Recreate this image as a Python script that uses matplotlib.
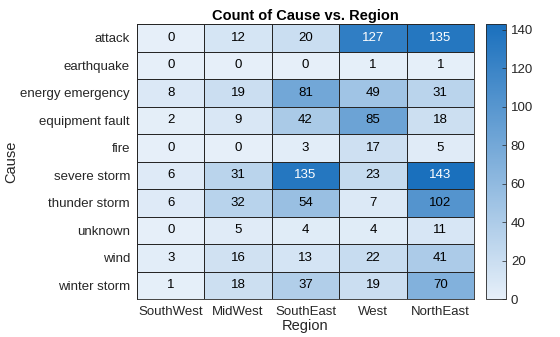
import matplotlib.pyplot as plt
import numpy as np
from matplotlib.colors import LinearSegmentedColormap

plt.rcParams["font.family"] = ["Liberation Sans", "DejaVu Sans"]

causes = ["attack", "earthquake", "energy emergency", "equipment fault", "fire",
          "severe storm", "thunder storm", "unknown", "wind", "winter storm"]
regions = ["SouthWest", "MidWest", "SouthEast", "West", "NorthEast"]

southwest = [0, 0, 8, 2, 0, 6, 6, 0, 3, 1]
midwest = [12, 0, 19, 9, 0, 31, 32, 5, 16, 18]
southeast = [20, 0, 81, 42, 3, 135, 54, 4, 13, 37]
west = [127, 1, 49, 85, 17, 23, 7, 4, 22, 19]
northeast = [135, 1, 31, 18, 5, 143, 102, 11, 41, 70]

counts = np.array([southwest, midwest, southeast, west, northeast]).T

cmap = LinearSegmentedColormap.from_list("mblue", ["#E6EFF9", "#1A70BD"])
vmax = counts.max()

fig = plt.figure(figsize=(5.6, 3.37), dpi=100)
ax = fig.add_axes([137 / 560, 1 - 299 / 337, 337 / 560, 275 / 337])
cax = fig.add_axes([486 / 560, 1 - 299 / 337, 20 / 560, 275 / 337])

mesh = ax.pcolormesh(counts, cmap=cmap, vmin=0, vmax=vmax,
                     edgecolor="#262626", linewidth=0.5)
ax.set_xlim(0, len(regions))
ax.set_ylim(len(causes), 0)

for i in range(len(causes)):
    for j in range(len(regions)):
        v = counts[i, j]
        col = "white" if v > 115 else "black"
        ax.text(j + 0.5, i + 0.5, str(v), ha="center", va="center",
                fontsize=9.5, color=col)

ax.set_xticks(np.arange(len(regions)) + 0.5)
ax.set_xticklabels(regions, fontsize=9.5, color="#262626")
ax.set_yticks(np.arange(len(causes)) + 0.5)
ax.set_yticklabels(causes, fontsize=9.5, color="#262626")
ax.tick_params(length=0, pad=5)
ax.set_xlabel("Region", fontsize=10.5, color="#262626", labelpad=1)
ax.set_ylabel("Cause", fontsize=10.5, color="#262626", va="center")
ax.yaxis.set_label_coords(-0.372, 0.5)
ax.set_title("Count of Cause vs. Region", fontsize=10.5, fontweight="bold",
             color="#000000", pad=3)
for s in ax.spines.values():
    s.set_color("#262626")
    s.set_linewidth(0.6)

cb = fig.colorbar(mesh, cax=cax, ticks=np.arange(0, 141, 20))
cb.ax.tick_params(labelsize=9.5, direction="in", length=3, width=0.5, colors="#262626")
cb.outline.set_edgecolor("#262626")
cb.outline.set_linewidth(0.6)

fig.savefig("out.png", dpi=100)
